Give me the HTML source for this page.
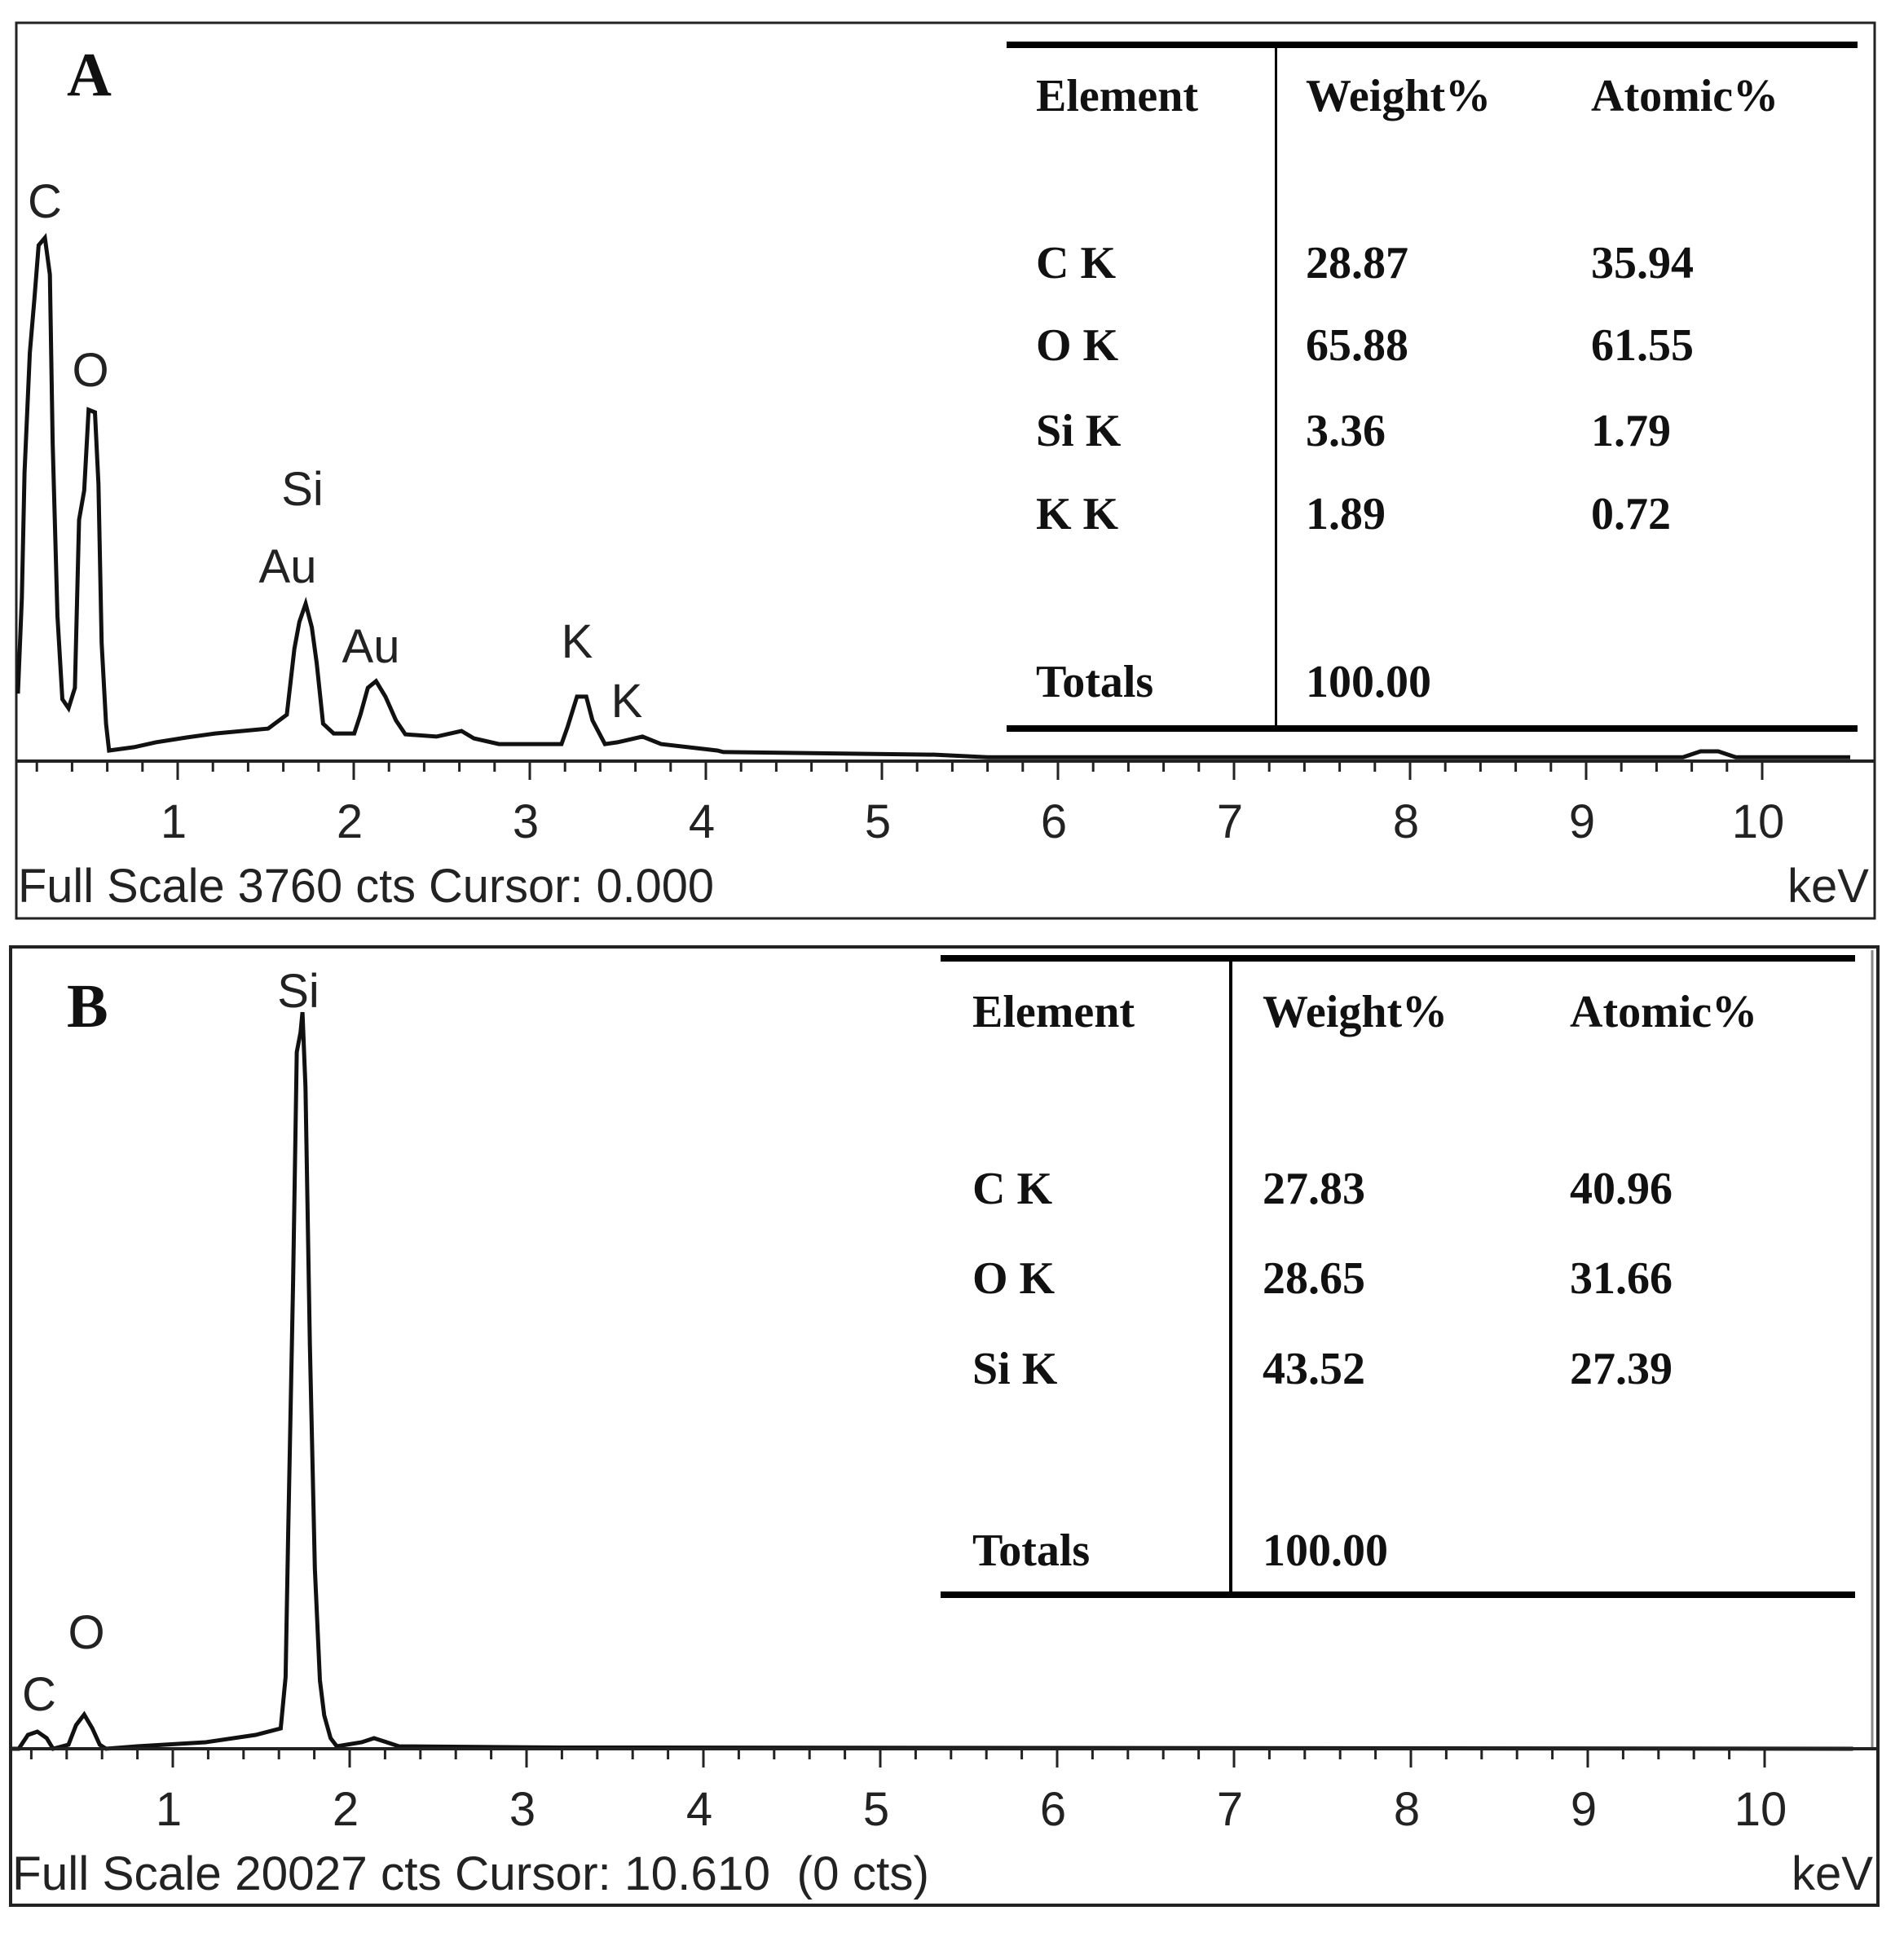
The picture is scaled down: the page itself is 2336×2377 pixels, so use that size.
<!DOCTYPE html>
<html><head><meta charset="utf-8">
<style>
html,body{margin:0;padding:0;background:#fff;}
svg{display:block;}
.ax{font-family:"Liberation Sans",Arial,sans-serif;font-size:58px;fill:#222;}
.tb{font-family:"Liberation Serif","Times New Roman",serif;font-weight:bold;font-size:56px;fill:#111;}
.pl{font-family:"Liberation Serif","Times New Roman",serif;font-weight:bold;font-size:76px;fill:#111;}
</style></head>
<body>
<svg id="fig" width="2336" height="2377" viewBox="0 0 2336 2377" xmlns="http://www.w3.org/2000/svg">
  <rect x="0" y="0" width="2336" height="2377" fill="#fff"/>
  <g id="panelA">
    <rect x="20" y="28" width="2280" height="1099" fill="none" stroke="#222" stroke-width="3"/>
    <text class="pl" x="82" y="117">A</text>
    <g id="specA"></g>
    <g id="ticksA"></g>
    <text class="ax" x="55" y="267" text-anchor="middle">C</text>
    <text class="ax" x="111" y="474" text-anchor="middle">O</text>
    <text class="ax" x="371" y="620" text-anchor="middle">Si</text>
    <text class="ax" x="353" y="715" text-anchor="middle">Au</text>
    <text class="ax" x="455" y="813" text-anchor="middle">Au</text>
    <text class="ax" x="708" y="807" text-anchor="middle">K</text>
    <text class="ax" x="769" y="880" text-anchor="middle">K</text>
    <text class="ax" x="22" y="1107" textLength="854" lengthAdjust="spacingAndGlyphs">Full Scale 3760 cts Cursor: 0.000</text>
    <text class="ax" x="2293" y="1107" text-anchor="end">keV</text>
    <g>
      <rect x="1235" y="51" width="1044" height="8" fill="#000"/>
      <rect x="1235" y="890" width="1044" height="8" fill="#000"/>
      <rect x="1564" y="58" width="3" height="832" fill="#000"/>
      <text class="tb" x="1271" y="136">Element</text>
      <text class="tb" x="1602" y="136">Weight%</text>
      <text class="tb" x="1952" y="136">Atomic%</text>
      <text class="tb" x="1271" y="341">C K</text>
      <text class="tb" x="1602" y="341">28.87</text>
      <text class="tb" x="1952" y="341">35.94</text>
      <text class="tb" x="1271" y="442">O K</text>
      <text class="tb" x="1602" y="442">65.88</text>
      <text class="tb" x="1952" y="442">61.55</text>
      <text class="tb" x="1271" y="547">Si K</text>
      <text class="tb" x="1602" y="547">3.36</text>
      <text class="tb" x="1952" y="547">1.79</text>
      <text class="tb" x="1271" y="649">K K</text>
      <text class="tb" x="1602" y="649">1.89</text>
      <text class="tb" x="1952" y="649">0.72</text>
      <text class="tb" x="1271" y="855">Totals</text>
      <text class="tb" x="1602" y="855">100.00</text>
    </g>
  </g>
  <g id="panelB">
    <rect x="13" y="1162" width="2291" height="1176" fill="none" stroke="#222" stroke-width="4"/>
    <line x1="2297" y1="1166" x2="2297" y2="2146" stroke="#888" stroke-width="3"/>
    <text class="pl" x="82" y="1260">B</text>
    <g id="specB"></g>
    <g id="ticksB"></g>
    <text class="ax" x="366" y="1236" text-anchor="middle">Si</text>
    <text class="ax" x="106" y="2023" text-anchor="middle">O</text>
    <text class="ax" x="48" y="2099" text-anchor="middle">C</text>
    <text class="ax" x="15" y="2319" textLength="1125" lengthAdjust="spacingAndGlyphs" xml:space="preserve">Full Scale 20027 cts Cursor: 10.610  (0 cts)</text>
    <text class="ax" x="2298" y="2319" text-anchor="end">keV</text>
    <g>
      <rect x="1154" y="1172" width="1122" height="8" fill="#000"/>
      <rect x="1154" y="1953" width="1122" height="8" fill="#000"/>
      <rect x="1508" y="1180" width="4" height="774" fill="#000"/>
      <text class="tb" x="1193" y="1260">Element</text>
      <text class="tb" x="1549" y="1260">Weight%</text>
      <text class="tb" x="1926" y="1260">Atomic%</text>
      <text class="tb" x="1193" y="1477">C K</text>
      <text class="tb" x="1549" y="1477">27.83</text>
      <text class="tb" x="1926" y="1477">40.96</text>
      <text class="tb" x="1193" y="1587">O K</text>
      <text class="tb" x="1549" y="1587">28.65</text>
      <text class="tb" x="1926" y="1587">31.66</text>
      <text class="tb" x="1193" y="1698">Si K</text>
      <text class="tb" x="1549" y="1698">43.52</text>
      <text class="tb" x="1926" y="1698">27.39</text>
      <text class="tb" x="1193" y="1921">Totals</text>
      <text class="tb" x="1549" y="1921">100.00</text>
    </g>
  </g>
</svg>
<script>
var energyA = [0.0,0.09,0.115,0.13,0.16,0.186,0.21,0.246,0.274,0.29,0.317,0.345,0.38,0.416,0.44,0.469,0.494,0.53,0.55,0.568,0.593,0.61,0.752,0.876,1.054,1.213,1.514,1.62,1.663,1.691,1.727,1.762,1.79,1.826,1.886,2.003,2.038,2.08,2.127,2.18,2.24,2.293,2.47,2.612,2.683,2.825,3.18,3.215,3.268,3.321,3.356,3.427,3.498,3.64,3.746,4.065,4.1,5.3,5.6,9.55,9.65,9.75,9.85,10.5];
var countsA = [345,345,832,1473,2084,2359,2633,2671,2483,1627,740,316,270,374,1231,1381,1793,1780,1414,603,191,54,71,96,121,141,166,237,574,711,803,682,499,191,141,141,237,374,408,329,208,137,125,154,116,87,87,175,329,329,208,87,96,125,87,54,46,33,20,20,50,50,20,20];
var energyB = [0.0,0.129,0.181,0.234,0.287,0.323,0.41,0.453,0.499,0.545,0.587,0.622,0.798,1.186,1.468,1.61,1.638,1.652,1.68,1.701,1.722,1.733,1.75,1.775,1.803,1.832,1.856,1.892,1.927,2.068,2.138,2.209,2.279,3.196,3.654,10.5];
var countsB = [0,0,346,427,265,0,102,590,855,509,102,0,61,163,346,509,1791,5291,11660,17400,17888,18396,16524,10073,4497,1709,834,265,61,163,265,163,61,30,30,0];
var tickLabels = ["1","2","3","4","5","6","7","8","9","10"];

var NS = "http://www.w3.org/2000/svg";
function makeAxis(x0, pxPerKeV, baseY, topY, fullScale) {
  return {
    x: function (k) { return x0 + k * pxPerKeV; },
    y: function (c) { return baseY - c / fullScale * (baseY - topY); }
  };
}
var axA = makeAxis(2, 216, 934, 30, 3760);
var axB = makeAxis(-5, 217, 2146, 1162, 20027);

function drawSpectrum(gid, ax, en, ct, xmin, xmax, nm) {
  var g = document.getElementById(gid);
  var pts = [];
  for (var i = 0; i < en.length; i++) {
    var x = Math.max(xmin, Math.min(xmax, ax.x(en[i])));
    pts.push(x.toFixed(1) + "," + ax.y(ct[i]).toFixed(1));
  }
  var pl = document.createElementNS(NS, "polyline");
  pl.setAttribute("points", pts.join(" "));
  pl.setAttribute("fill", "none");
  pl.setAttribute("stroke", "#111");
  pl.setAttribute("stroke-width", "5");
  
  
  g.appendChild(pl);
}
function drawAxis(gid, ax, baseY, xmin, xmax, labY, nm) {
  var g = document.getElementById(gid);
  var bl = document.createElementNS(NS, "line");
  bl.setAttribute("x1", xmin); bl.setAttribute("x2", xmax);
  bl.setAttribute("y1", baseY); bl.setAttribute("y2", baseY);
  bl.setAttribute("stroke", "#222"); bl.setAttribute("stroke-width", "4");
  
  
  g.appendChild(bl);
  for (var t = 1; t <= 50; t++) {
    var k = t * 0.2;
    var major = (t % 5 === 0);
    var tk = document.createElementNS(NS, "line");
    var xx = ax.x(k);
    tk.setAttribute("x1", xx); tk.setAttribute("x2", xx);
    tk.setAttribute("y1", baseY); tk.setAttribute("y2", baseY + (major ? 23 : 13));
    tk.setAttribute("stroke", "#222"); tk.setAttribute("stroke-width", "3");
    
    
    g.appendChild(tk);
  }
  for (var j = 0; j < tickLabels.length; j++) {
    var tx = document.createElementNS(NS, "text");
    tx.setAttribute("class", "ax");
    tx.setAttribute("x", ax.x(j + 1) - 5);
    tx.setAttribute("y", labY);
    tx.setAttribute("text-anchor", "middle");
    tx.textContent = tickLabels[j];
    
    
    g.appendChild(tx);
  }
}
drawSpectrum("specA", axA, energyA, countsA, 22, 2298, "spectrum-a-line");
drawSpectrum("specB", axB, energyB, countsB, 15, 2300, "spectrum-b-line");
drawAxis("ticksA", axA, 934, 20, 2300, 1028, "x-axis-a");
drawAxis("ticksB", axB, 2146, 13, 2304, 2240, "x-axis-b");
</script>
</body></html>
